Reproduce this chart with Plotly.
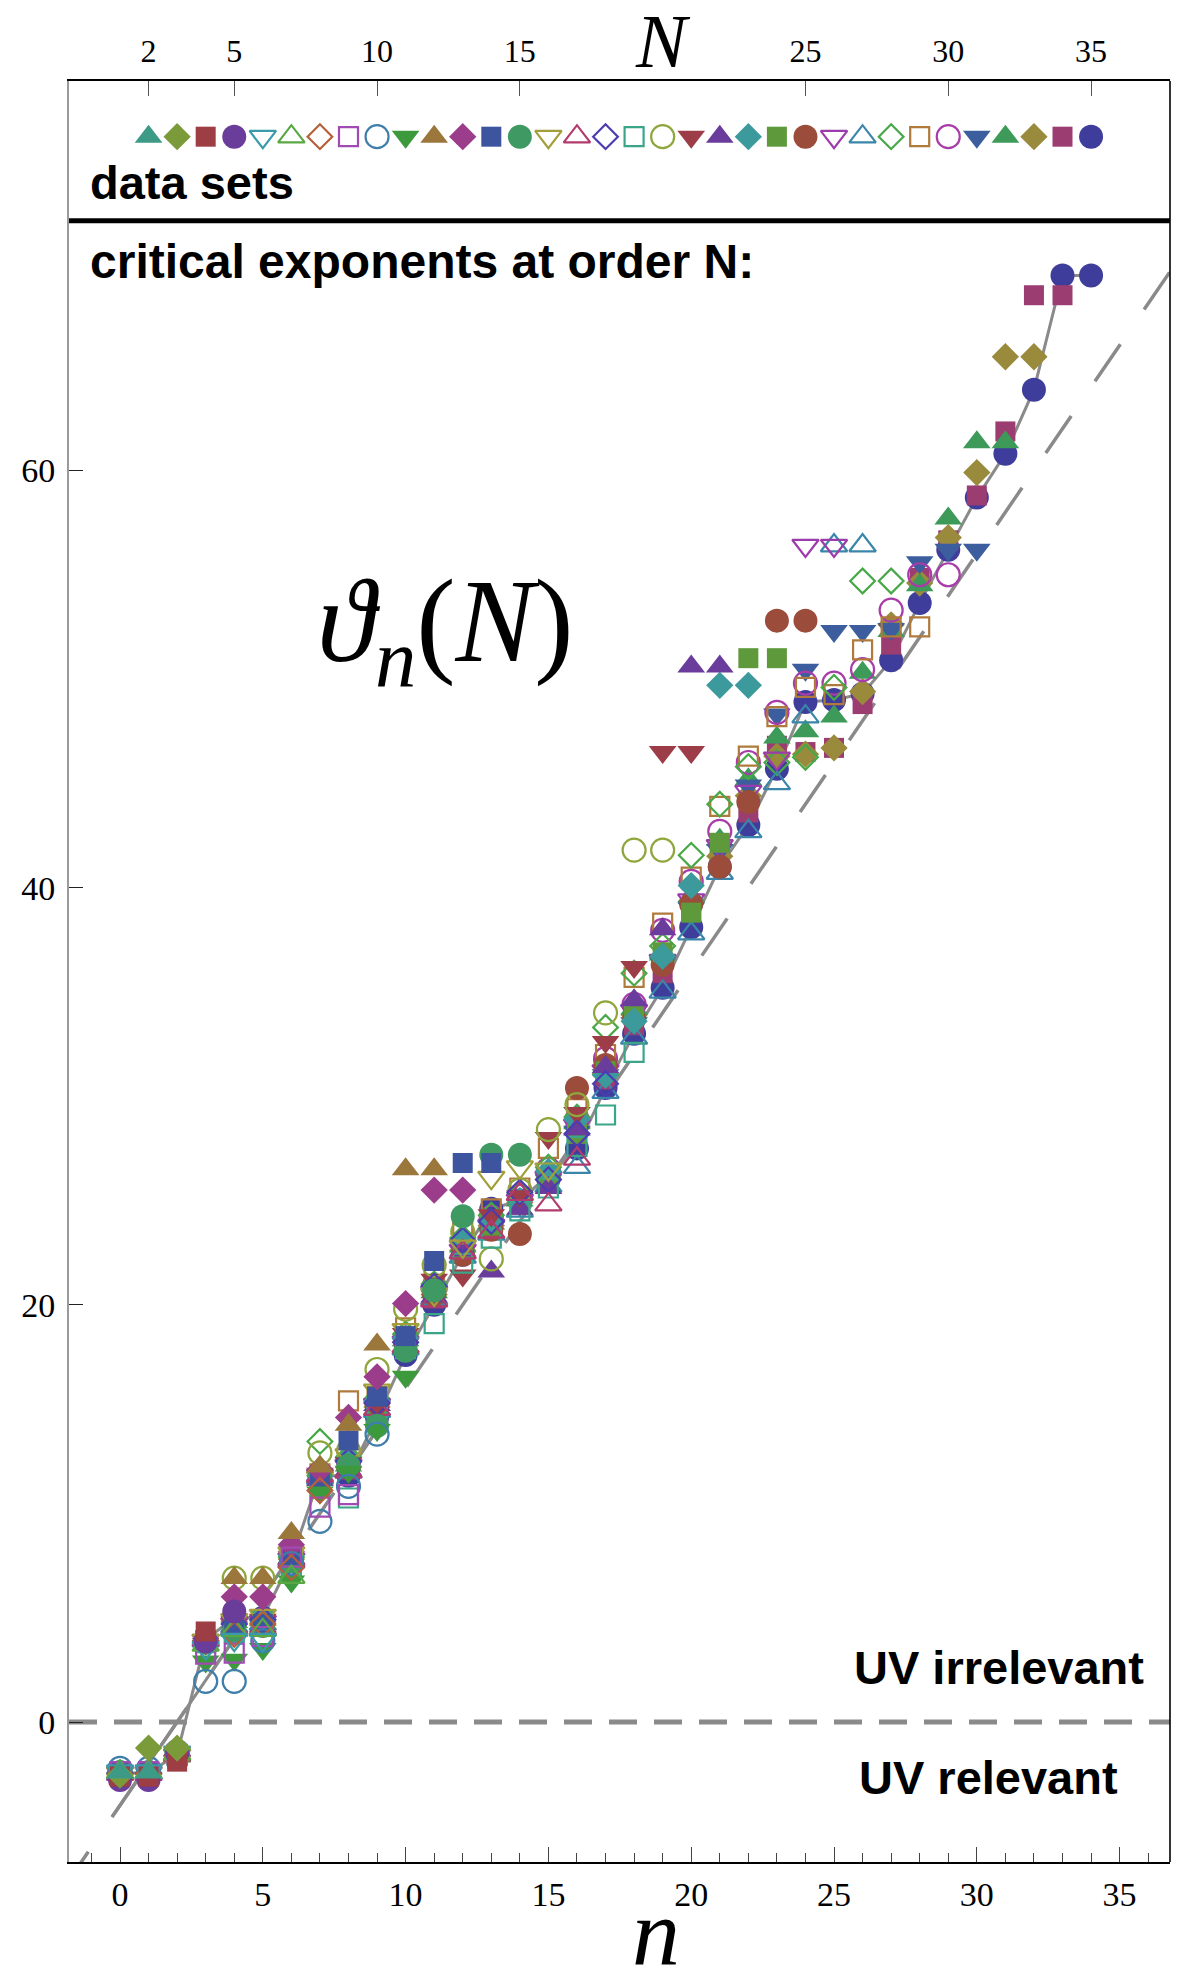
import plotly.graph_objects as go

# ---------------- data: critical exponents theta_n(N), n = 0 .. N-1 ----------------
theta_N02 = [-2.42, -2.42]
theta_N03 = [-2.55, -1.25, -1.25]
theta_N04 = [-2.62, -2.62, -1.9, 4.34]
theta_N05 = [-2.78, -2.78, -1.5, 3.86, 5.3]
theta_N06 = [-2.35, -2.35, -1.45, 3.55, 3.95, 3.95]
theta_N07 = [-2.4, -2.4, -1.5, 3.7, 4.4, 4.4, 6.95]
theta_N08 = [-2.5, -2.5, -1.65, 3.9, 4.2, 4.7, 7.4, 11.1]
theta_N09 = [-2.38, -2.38, -1.55, 3.25, 3.3, 4.1, 7.9, 10.3, 10.9]
theta_N10 = [-2.22, -2.22, -1.42, 1.95, 1.95, 3.9, 7.6, 9.62, 11.3, 13.8]
theta_N11 = [-2.45, -2.45, -1.6, 2.9, 2.98, 3.5, 6.74, 11.0, 12.0, 14.0, 16.55]
theta_N12 = [-2.45, -2.45, -1.65, 4.1, 6.9, 6.9, 9.06, 12.25, 14.25, 18.1, 26.5, 26.5]
theta_N13 = [-2.5, -2.5, -1.6, 4.0, 6.0, 6.0, 8.5, 12.1, 14.6, 16.55, 20.06, 25.5, 25.5]
theta_N14 = [-2.45, -2.45, -1.7, 3.9, 4.6, 4.7, 8.0, 11.5, 13.5, 15.6, 18.5, 22.1, 26.8, 26.8]
theta_N15 = [-2.4, -2.4, -1.6, 3.8, 4.4, 4.6, 7.7, 11.9, 12.3, 14.2, 17.8, 20.7, 24.25, 27.2, 27.2]
theta_N16 = [-2.45, -2.45, -1.6, 3.9, 4.9, 5.1, 8.1, 11.7, 12.8, 15.9, 18.8, 20.5, 22.8, 26.1, 26.6, 26.5]
theta_N17 = [-2.5, -2.5, -1.55, 3.95, 4.5, 4.5, 7.8, 11.8, 12.0, 15.0, 18.0, 20.2, 22.5, 23.5, 25.3,
             24.8, 27.0]
theta_N18 = [-2.45, -2.45, -1.6, 3.85, 4.7, 4.9, 7.6, 11.6, 12.5, 15.3, 18.2, 20.9, 23.1, 24.0, 25.4,
             26.0, 28.2, 30.6]
theta_N19 = [-2.45, -2.45, -1.6, 3.8, 4.3, 4.8, 7.5, 11.3, 10.74, 14.8, 17.9, 19.1, 22.0, 23.2, 24.5,
             25.6, 27.6, 29.1, 32.1]
theta_N20 = [-2.45, -2.45, -1.6, 3.9, 6.9, 6.9, 8.3, 12.9, 13.0, 16.9, 19.8, 21.9, 23.5, 22.2, 25.5,
             28.4, 29.6, 34.0, 41.8, 41.8]
theta_N21 = [-2.4, -2.4, -1.6, 3.9, 4.8, 4.9, 7.9, 11.9, 12.4, 15.0, 18.6, 21.2, 21.4, 24.3, 25.2,
             28.0, 29.2, 32.6, 36.2, 46.5, 46.5]
theta_N22 = [-2.5, -2.5, -1.6, 3.95, 4.5, 4.6, 7.7, 11.6, 12.1, 15.2, 18.0, 20.4, 22.6, 21.6, 24.6,
             25.6, 28.4, 31.4, 34.6, 38.0, 50.6, 50.6]
theta_N23 = [-2.45, -2.45, -1.6, 3.9, 4.7, 4.8, 8.0, 11.8, 12.6, 15.4, 18.4, 20.8, 23.0, 24.0, 25.0,
             26.4, 28.9, 31.0, 33.6, 36.7, 40.1, 49.7, 49.7]
theta_N24 = [-2.45, -2.45, -1.6, 3.9, 4.6, 4.9, 7.9, 11.7, 12.3, 15.0, 18.3, 20.6, 22.7, 23.8, 24.9,
             26.1, 28.2, 31.2, 33.9, 36.9, 38.8, 42.15, 51.0, 51.0]
theta_N25 = [-2.45, -2.45, -1.6, 3.85, 4.8, 4.8, 7.8, 11.8, 12.2, 15.1, 18.1, 20.5, 22.4, 23.6, 23.4,
             26.0, 30.4, 31.5, 33.7, 36.3, 39.2, 41.0, 44.1, 52.8, 52.8]
theta_N26 = [-2.45, -2.45, -1.6, 3.9, 4.7, 4.8, 7.8, 11.8, 12.3, 15.2, 18.2, 20.6, 22.6, 23.8, 25.0,
             26.1, 28.6, 31.2, 34.1, 36.5, 39.4, 42.0, 44.6, 46.2, 56.4, 56.4]
theta_N27 = [-2.45, -2.45, -1.6, 3.9, 4.6, 4.7, 7.7, 11.7, 12.0, 14.9, 17.9, 20.3, 22.3, 23.4, 24.5,
             25.7, 26.6, 30.2, 32.8, 35.0, 37.8, 40.7, 42.7, 45.0, 48.2, 56.4, 56.4]
theta_N28 = [-2.45, -2.45, -1.6, 3.9, 4.8, 4.9, 7.9, 13.45, 12.7, 15.5, 18.6, 21.0, 23.2, 24.3, 25.3,
             26.6, 29.0, 33.3, 35.9, 37.2, 41.55, 44.0, 45.8, 46.0, 46.25, 49.6, 54.7, 54.7]
theta_N29 = [-2.45, -2.45, -1.6, 3.9, 4.7, 4.8, 7.8, 11.9, 15.4, 15.6, 18.9, 21.5, 23.5, 24.6, 25.6,
             27.5, 29.4, 32.0, 35.7, 38.3, 40.5, 43.9, 46.3, 48.2, 49.6, 49.25, 51.4, 52.5, 52.5]
theta_N30 = [-2.45, -2.45, -1.6, 3.9, 4.8, 4.9, 7.9, 11.8, 12.5, 15.3, 18.4, 20.9, 23.0, 24.2, 25.2,
             26.5, 28.9, 31.8, 34.4, 37.95, 40.3, 42.7, 46.0, 48.4, 49.8, 49.8, 50.45, 53.3, 55.0, 55.0]
theta_N31 = [-2.45, -2.45, -1.6, 3.9, 4.7, 4.8, 7.8, 11.7, 12.2, 15.1, 18.1, 20.4, 22.6, 23.7, 24.8,
             26.0, 28.3, 31.0, 33.5, 36.4, 39.0, 41.8, 44.9, 48.3, 50.45, 52.3, 52.3, 52.4, 55.6, 56.2,
             56.2]
theta_N32 = [-2.45, -2.45, -1.6, 3.9, 4.8, 4.9, 7.9, 11.8, 12.3, 15.2, 18.3, 20.6, 22.8, 23.9, 25.0,
             26.3, 28.7, 31.3, 34.2, 36.8, 39.6, 42.3, 45.2, 47.2, 47.5, 48.2, 50.3, 52.3, 54.5, 57.7,
             61.35, 61.35]
theta_N33 = [-2.45, -2.45, -1.6, 3.9, 4.7, 4.9, 7.8, 11.8, 12.2, 15.1, 18.2, 20.5, 22.6, 23.8, 24.9,
             26.2, 28.5, 31.1, 33.9, 36.6, 39.3, 41.5, 44.4, 46.3, 46.4, 46.7, 49.4, 52.6, 54.6, 56.78,
             59.9, 65.45, 65.45]
theta_N34 = [-2.45, -2.45, -1.6, 3.9, 4.8, 4.9, 7.8, 11.8, 12.1, 15.0, 18.0, 20.3, 22.5, 23.7, 24.8,
             26.1, 28.2, 30.8, 33.4, 35.9, 38.9, 41.6, 43.6, 46.8, 46.5, 46.7, 48.8, 51.65, 54.85, 56.65,
             58.8, 61.87, 68.4, 68.4]
theta_N35 = [-2.45, -2.45, -1.55, 3.95, 5.0, 5.0, 7.8, 11.8, 11.8, 14.6, 17.6, 20.0, 22.4, 24.6, 25.0,
             26.2, 27.5, 30.4, 33.0, 35.2, 38.1, 41.0, 43.0, 45.7, 48.9, 49.0, 49.3, 50.9, 53.65, 56.2,
             58.7, 60.8, 63.87, 69.35, 69.35]

data_sets = [2, 3, 4, 5, 6, 7, 8, 9, 10, 11, 12, 13, 14, 15, 16, 17, 18, 19, 20, 21, 22, 23, 24, 25,
             26, 27, 28, 29, 30, 31, 32, 33, 34, 35]
theta_lists = [theta_N02, theta_N03, theta_N04, theta_N05, theta_N06, theta_N07, theta_N08, theta_N09,
               theta_N10, theta_N11, theta_N12, theta_N13, theta_N14, theta_N15, theta_N16, theta_N17,
               theta_N18, theta_N19, theta_N20, theta_N21, theta_N22, theta_N23, theta_N24, theta_N25,
               theta_N26, theta_N27, theta_N28, theta_N29, theta_N30, theta_N31, theta_N32, theta_N33,
               theta_N34, theta_N35]

# reference lines
gauss_n = [-2.0, 37.0]          # dashed line (canonical scaling)
gauss_theta = [-8.0, 70.0]
low_n = [-0.28, 3.4]            # short solid segment at small n
low_theta = [-4.55, 2.8]

# axis ticks
n_ticks = [0, 5, 10, 15, 20, 25, 30, 35]
N_ticks = [2, 5, 10, 15, 25, 30, 35]
theta_ticks = [0, 20, 40, 60]

# ---------------- styles ----------------
symbol_cycle = ['triangle-up', 'diamond', 'square', 'circle', 'triangle-down-open',
                'triangle-up-open', 'diamond-open', 'square-open', 'circle-open', 'triangle-down']
colors = ['#3d9a86', '#7b9b3b', '#9c3e44', '#6b3d9a', '#3b9aaa', '#5aa843', '#b5603a', '#a24ab4',
          '#3e7eaa', '#3c9a3c', '#9b773b', '#9c3d8c', '#3d559e', '#3e9a62', '#a29f3b', '#b23b6e',
          '#4b3cb2', '#3ba58a', '#8fa63c', '#9c3d47', '#6a3c9c', '#3c9a9c', '#5e9a3c', '#9b4c3b',
          '#9c3cac', '#3a86aa', '#48a848', '#b07a3c', '#a83ca8', '#3d5e9e', '#3d9a58', '#9a8a3c',
          '#9c3d72', '#3f3d9c']
size_map = {'triangle-up': 24, 'triangle-down': 24, 'diamond': 21, 'square': 20, 'circle': 24,
            'triangle-up-open': 23, 'triangle-down-open': 23, 'diamond-open': 19,
            'square-open': 19, 'circle-open': 23}
GREY = '#8a8a8a'
SERIF = 'Liberation Serif, Times New Roman, DejaVu Serif, serif'
SANS = 'Liberation Sans, Arial, Helvetica, sans-serif'

X_RANGE = [-1.786, 36.764]
Y_RANGE = [-6.711, 78.67]
LEGEND_Y = 76.0
SEPARATOR_Y = 71.97

fig = go.Figure()

fig.add_trace(go.Scatter(x=gauss_n, y=gauss_theta, mode='lines', hoverinfo='skip',
                         line=dict(color=GREY, width=3.5, dash='45px,42px')))
fig.add_trace(go.Scatter(x=low_n, y=low_theta, mode='lines', hoverinfo='skip',
                         line=dict(color=GREY, width=3)))
fig.add_trace(go.Scatter(x=list(range(len(theta_N35))), y=theta_N35, mode='lines', hoverinfo='skip',
                         line=dict(color=GREY, width=3)))


def marker_style(i):
    N = data_sets[i]
    sym = symbol_cycle[(N - 2) % 10]
    is_open = sym.endswith('open')
    return dict(symbol=sym, size=size_map[sym], color=colors[i], opacity=1,
                line=dict(color=colors[i], width=2.2 if is_open else 0))


# draw later data sets first so that low orders sit on top
for i in reversed(range(len(data_sets))):
    vals = theta_lists[i]
    fig.add_trace(go.Scatter(
        x=list(range(len(vals))), y=vals, mode='markers', name=f'N={data_sets[i]}',
        marker=marker_style(i)))

# legend row of data sets (top axis in N)
for i, N in enumerate(data_sets):
    fig.add_trace(go.Scatter(
        x=[N], y=[LEGEND_Y], xaxis='x2', yaxis='y', mode='markers', name=f'legend N={N}',
        marker=marker_style(i)))

fig.update_layout(
    width=1187, height=1968,
    margin=dict(l=69, r=17, t=81, b=106, autoexpand=False),
    paper_bgcolor='white', plot_bgcolor='white',
    showlegend=False,
    xaxis=dict(range=X_RANGE, tickmode='array', tickvals=n_ticks, ticks='inside', ticklen=15,
               tickwidth=1.3, tickcolor='#444', showgrid=False, zeroline=False,
               showline=True, linecolor='black', linewidth=1.6, mirror=False,
               tickfont=dict(family=SERIF, size=34, color='black'), ticklabelstandoff=1,
               minor=dict(tickmode='linear', tick0=0, dtick=1, ticks='inside', ticklen=9,
                          tickwidth=1.2, tickcolor='#444', showgrid=False)),
    xaxis2=dict(range=[X_RANGE[0] + 1, X_RANGE[1] + 1], overlaying='x', side='top', anchor='y',
                tickmode='array', tickvals=N_ticks, ticks='inside', ticklen=15, tickwidth=1.3,
                tickcolor='#555', showgrid=False, zeroline=False, showline=True,
                linecolor='black', linewidth=1.6,
                tickfont=dict(family=SERIF, size=32, color='black'), ticklabelstandoff=4),
    yaxis=dict(range=Y_RANGE, tickmode='array', tickvals=theta_ticks, ticks='inside', ticklen=14,
               tickwidth=1.3, tickcolor='#222', showgrid=False, zeroline=False,
               showline=True, linecolor='#9a9a9a', linewidth=2, mirror=False,
               tickfont=dict(family=SERIF, size=34, color='black'), ticklabelstandoff=5),
)

shapes = [
    dict(type='line', xref='paper', yref='y', x0=0, x1=1, y0=0, y1=0,
         line=dict(color=GREY, width=5, dash='28px,17px'), layer='below'),
    dict(type='line', xref='paper', yref='y', x0=0, x1=1, y0=SEPARATOR_Y, y1=SEPARATOR_Y,
         line=dict(color='black', width=5)),
    dict(type='line', xref='paper', yref='paper', x0=1, x1=1, y0=0, y1=1,
         line=dict(color='black', width=1.6)),
]
fig.update_layout(shapes=shapes)

annotations = [
    dict(text='<b>data sets</b>', x=-1.13, y=73.8, xref='x', yref='y', xanchor='left',
         yanchor='middle', showarrow=False, font=dict(family=SANS, size=47, color='black')),
    dict(text='<b>critical exponents at order N:</b>', x=-1.13, y=70.0, xref='x', yref='y',
         xanchor='left', yanchor='middle', showarrow=False,
         font=dict(family=SANS, size=48, color='black')),
    dict(text='<b>UV irrelevant</b>', x=35.91, y=2.6, xref='x', yref='y', xanchor='right',
         yanchor='middle', showarrow=False, font=dict(family=SANS, size=47, color='black')),
    dict(text='<b>UV relevant</b>', x=35.0, y=-2.67, xref='x', yref='y', xanchor='right',
         yanchor='middle', showarrow=False, font=dict(family=SANS, size=47, color='black')),
    dict(text='<i>ϑ</i><sub><i>n</i></sub>(<i>N</i>)', x=11.4, y=52.33, xref='x', yref='y',
         xanchor='center', yanchor='middle', showarrow=False,
         font=dict(family=SERIF, size=118, color='black')),
    dict(text='<i>N</i>', x=20, y=1.0223, xref='x2', yref='paper', xanchor='center',
         yanchor='middle', showarrow=False, font=dict(family=SERIF, size=76, color='black')),
    dict(text='<i>n</i>', x=18.76, y=-0.0395, xref='x', yref='paper', xanchor='center',
         yanchor='middle', showarrow=False, font=dict(family=SERIF, size=96, color='black')),
]
fig.update_layout(annotations=annotations)

fig.write_html('out.html', config={'displayModeBar': False},
               post_script="document.body.style.margin='0';document.body.style.padding='0';")
